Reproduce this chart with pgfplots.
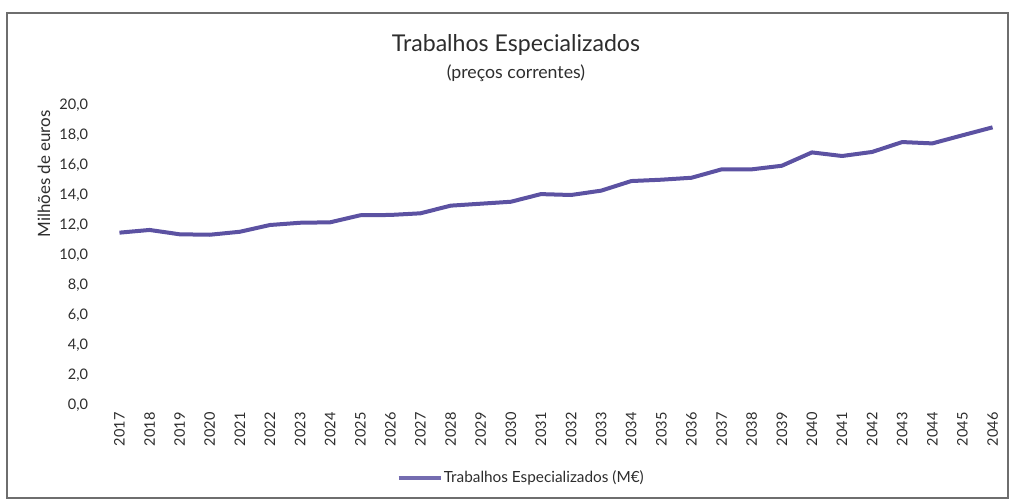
\documentclass[border=0pt]{standalone}
\usepackage{fontspec}
\setmainfont{Lato}
\usepackage{pgfplots}
\pgfplotsset{compat=1.18}
\definecolor{linec}{RGB}{92,82,162}
\definecolor{txt}{RGB}{45,45,45}
\definecolor{framec}{RGB}{110,110,110}
\begin{document}
\begin{tikzpicture}
\begin{scope}[x=0.5bp,y=-0.5bp]
\path (0,0) rectangle (1013,500);
\draw[framec, line width=1bp] (7,13) rectangle (1008,498);
\node[anchor=base, font=\fontsize{11.6}{13}\selectfont, text=txt, inner sep=0pt] at (516,52) {Trabalhos Especializados};
\node[anchor=base, font=\fontsize{8.9}{10}\selectfont, text=txt, inner sep=0pt] at (516,79) {(preços correntes)};
\node[rotate=90, font=\fontsize{8.5}{10}\selectfont, text=txt, inner sep=0pt] at (44,174) {Milhões de euros};
\end{scope}
\begin{axis}[
  at={(52.2bp,-202.5bp)}, anchor=south west,
  scale only axis, width=451.6bp, height=150bp,
  xmin=2016.5, xmax=2046.5, ymin=0, ymax=20,
  clip=false,
  axis line style={draw=none},
  major tick length=0pt,
  tick style={draw=none},
  xtick={2017,2018,...,2046},
  ytick={0,2,...,20},
  /pgf/number format/assume math mode=true,
  ticklabel style={text=txt, font=\fontsize{7.3}{9}\selectfont},
  xticklabel style={rotate=90, anchor=east, inner sep=0pt, /pgf/number format/1000 sep={}},
  xticklabel shift=3.5bp,
  yticklabel style={anchor=east, inner sep=0pt, /pgf/number format/.cd, fixed, fixed zerofill, precision=1, use comma},
  yticklabel shift=8bp,
  legend style={at={(0.461,-0.243)}, anchor=center, draw=none, fill=none, font=\fontsize{7.7}{9}\selectfont, text=txt, inner sep=0pt, nodes={inner sep=0.6bp}},
  legend image code/.code={\draw[#1, draw=linec!85!white] (0bp,0bp) -- (21bp,0bp);},
]
\addplot[linec, line width=2bp, line join=round] coordinates {
(2017,11.49) (2018,11.67) (2019,11.38) (2020,11.35) (2021,11.55)
(2022,12.00) (2023,12.15) (2024,12.18) (2025,12.65) (2026,12.67)
(2027,12.78) (2028,13.29) (2029,13.42) (2030,13.55) (2031,14.06)
(2032,14.00) (2033,14.29) (2034,14.93) (2035,15.02) (2036,15.15)
(2037,15.71) (2038,15.71) (2039,15.95) (2040,16.84) (2041,16.60)
(2042,16.87) (2043,17.53) (2044,17.44) (2045,17.98) (2046,18.51)
};
\addlegendentry{Trabalhos Especializados (M€)}
\end{axis}
\end{tikzpicture}
\end{document}
